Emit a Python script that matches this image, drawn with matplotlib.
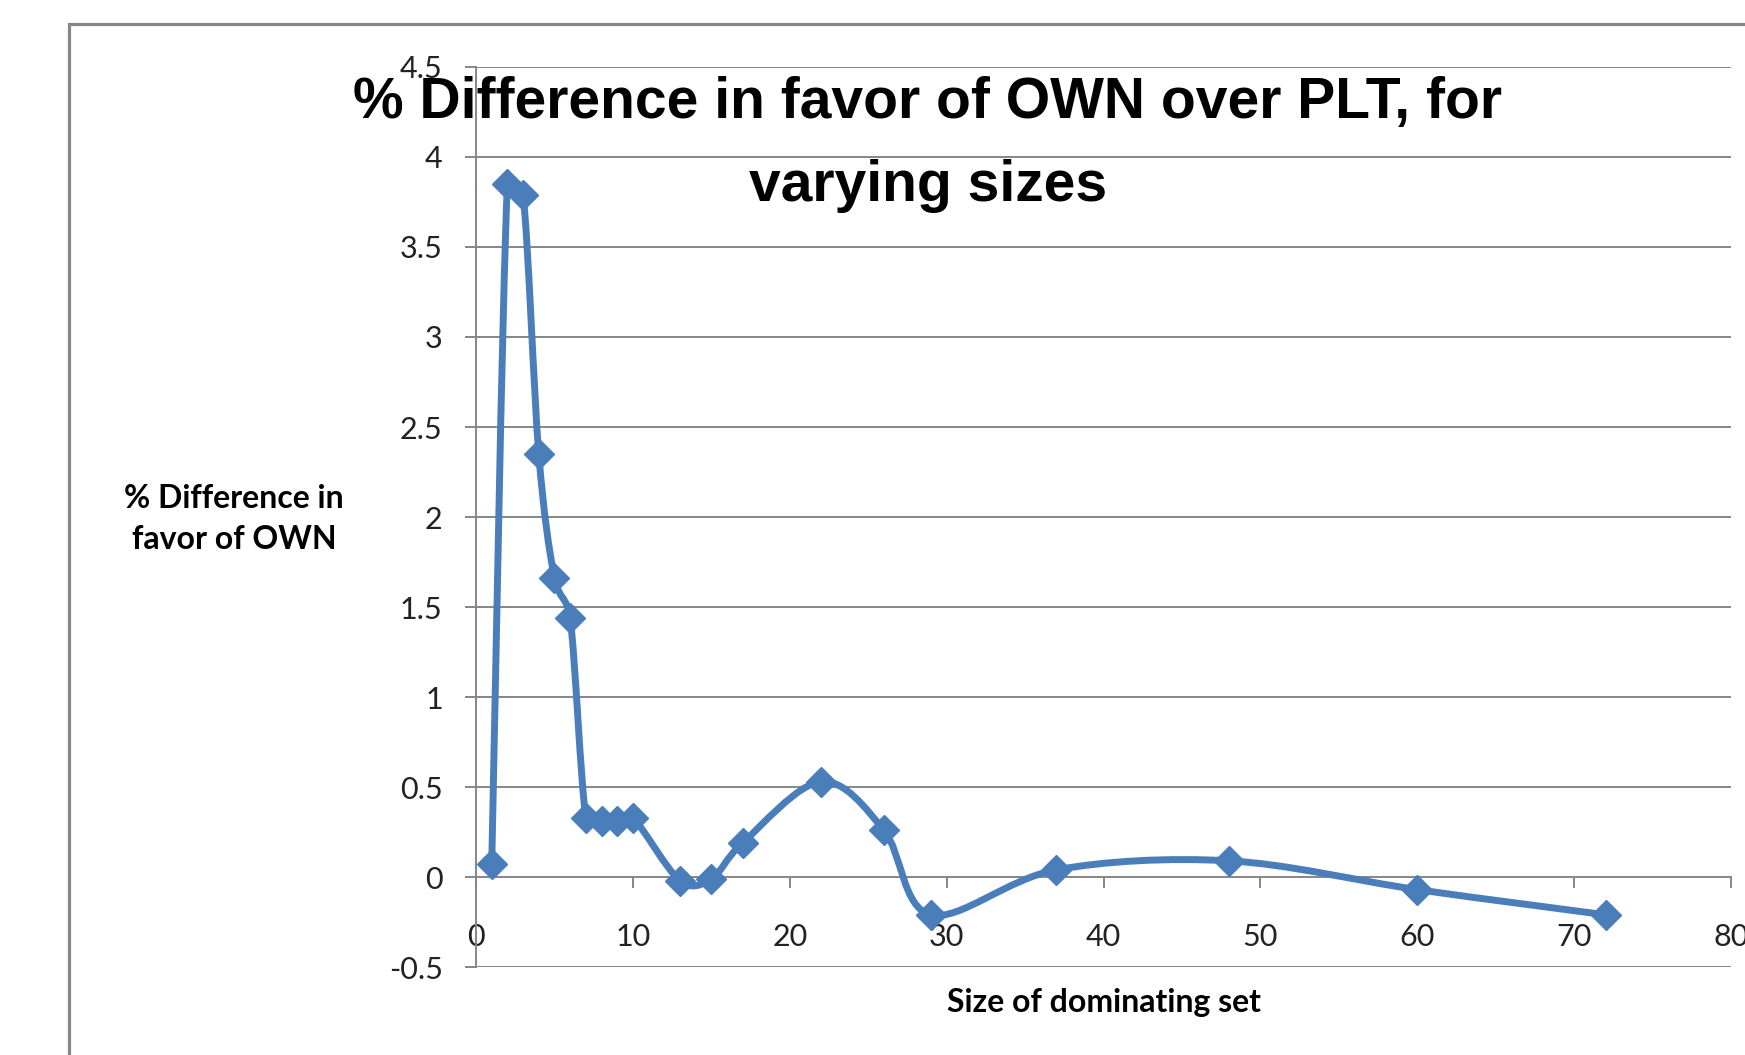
#!/usr/bin/env python3

import numpy as np
import matplotlib
matplotlib.use('Agg')
import matplotlib.pyplot as plt
from matplotlib.path import Path
from matplotlib.patches import PathPatch, Rectangle

set_size = [1, 2, 3, 4, 5, 6, 7, 8, 9, 10, 13, 15, 17, 22, 26, 29, 37, 48, 60, 72]
pct_diff = [0.07, 3.85, 3.79, 2.35, 1.66, 1.44, 0.33, 0.31, 0.31, 0.33,
            -0.02, -0.01, 0.19, 0.53, 0.26, -0.21, 0.04, 0.09, -0.07, -0.21]
x_ticks = [0, 10, 20, 30, 40, 50, 60, 70, 80]
y_ticks = [-0.5, 0, 0.5, 1, 1.5, 2, 2.5, 3, 3.5, 4, 4.5]

blue = '#4a7ebb'
grey = '#868686'
label_font = ['Lato', 'DejaVu Sans']
title_font = ['Liberation Sans Narrow', 'Liberation Sans', 'DejaVu Sans']

fig = plt.figure(figsize=(17.45, 10.55), dpi=100)
ax = fig.add_axes([0.2728, 0.0834, 0.7192, 0.8531])

# outer chart frame, runs off the right and bottom edges
fig.patches.append(Rectangle((0.0395, -0.2), 2.0, 1.177, transform=fig.transFigure,
                             fill=False, edgecolor=grey, linewidth=2.3))

ax.set_xlim(0, 80)
ax.set_ylim(-0.5, 4.5)

# smoothed line like excel: bezier segments, control arms limited
# to half the segment length (in pixels) so steep jumps don't overshoot
pts = ax.transData.transform(np.column_stack([set_size, pct_diff]))
n = len(pts)
verts = [pts[0]]
codes = [Path.MOVETO]
for i in range(n - 1):
    p0 = pts[max(i - 1, 0)]
    p1 = pts[i]
    p2 = pts[i + 1]
    p3 = pts[min(i + 2, n - 1)]
    seg = np.hypot(*(p2 - p1))
    t1 = (p2 - p0) / 6
    t2 = (p3 - p1) / 6
    l1 = np.hypot(*t1)
    l2 = np.hypot(*t2)
    if l1 > 0.5 * seg:
        t1 = t1 * 0.5 * seg / l1
    if l2 > 0.5 * seg:
        t2 = t2 * 0.5 * seg / l2
    verts += [p1 + t1, p2 - t2, p2]
    codes += [Path.CURVE4] * 3
verts = ax.transData.inverted().transform(np.array(verts))
ax.add_patch(PathPatch(Path(verts, codes), fill=False, edgecolor=blue,
                       linewidth=5, joinstyle='round', capstyle='round', zorder=3))
ax.plot(set_size, pct_diff, linestyle='none', marker='D', markersize=15,
        color=blue, zorder=4, clip_on=False)

ax.set_xticks(x_ticks)
ax.set_yticks(y_ticks)
ax.set_xticklabels([str(v) for v in x_ticks])
ax.set_yticklabels(['%g' % v for v in y_ticks])

for v in y_ticks:
    if v != 0:
        ax.axhline(v, color=grey, linewidth=1.4, zorder=1)

for s in ['top', 'right']:
    ax.spines[s].set_visible(False)
ax.spines['bottom'].set_position(('data', 0))
ax.spines['bottom'].set_color(grey)
ax.spines['bottom'].set_linewidth(1.4)
ax.spines['left'].set_color(grey)
ax.spines['left'].set_linewidth(1.4)

ax.tick_params(axis='x', direction='out', length=8, width=1.4, color=grey,
               pad=25, labelsize=22)
ax.tick_params(axis='y', direction='out', length=8, width=1.4, color=grey,
               pad=16, labelsize=22)
for lab in ax.get_xticklabels() + ax.get_yticklabels():
    lab.set_family(label_font)
    lab.set_color('#222222')

fig.text(0.5318, 0.863, '% Difference in favor of OWN over PLT, for\nvarying sizes',
         ha='center', va='center', fontsize=41, fontweight='bold',
         family=title_font, linespacing=1.7, zorder=10)
fig.text(0.134, 0.5084, '% Difference in\nfavor of OWN', ha='center', va='center',
         fontsize=23, fontweight='bold', family=label_font, linespacing=1.5)
fig.text(0.6327, 0.0493, 'Size of dominating set', ha='center', va='center',
         fontsize=23, fontweight='bold', family=label_font)

plt.savefig('out.png', dpi=100)
